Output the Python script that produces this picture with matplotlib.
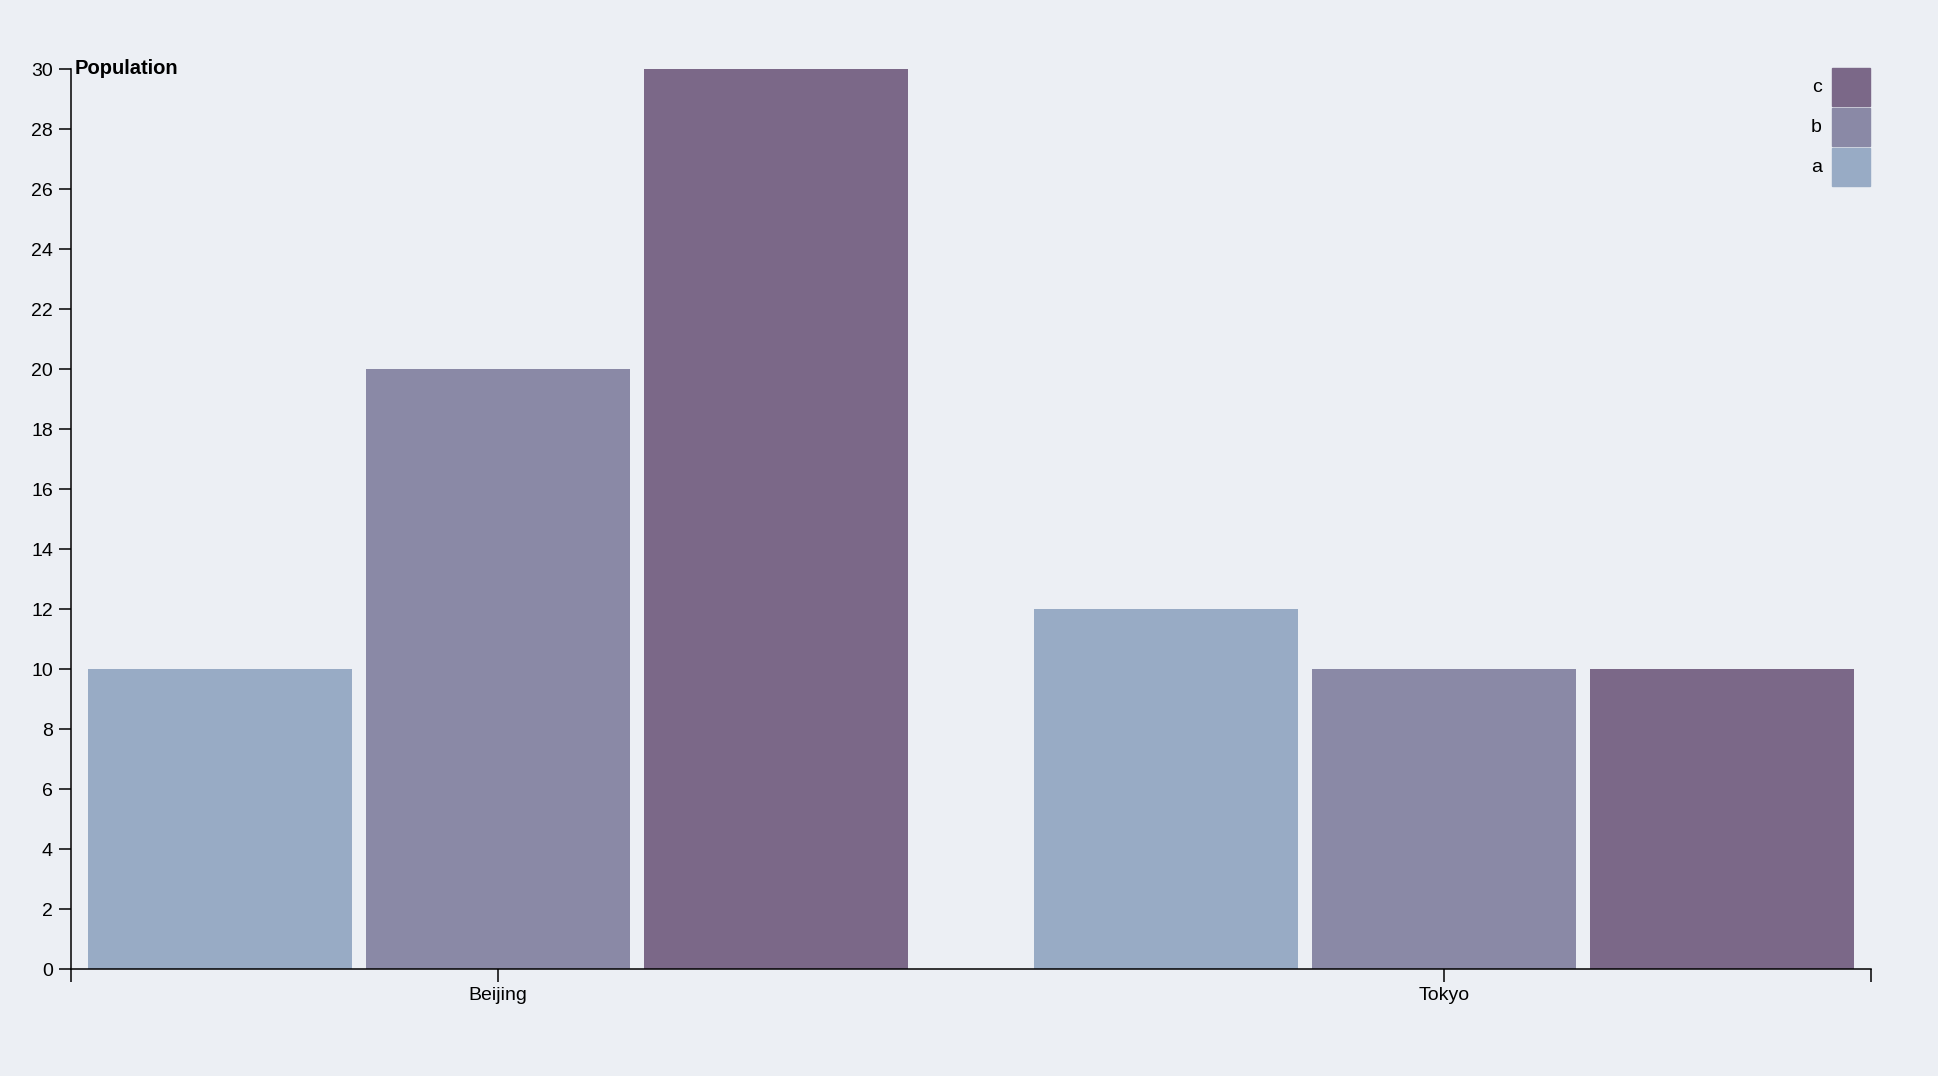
import matplotlib.pyplot as plt
import numpy as np

plt.rcParams['font.family'] = ['Liberation Sans', 'DejaVu Sans']

cities = ["Beijing", "Tokyo"]
series = ["a", "b", "c"]
values = {
    "a": [10, 12],
    "b": [20, 10],
    "c": [30, 10],
}
colors = {"a": "#98abc5", "b": "#8a89a6", "c": "#7b6888"}
bg = "#eceff4"

W, H = 1938, 1076
fig = plt.figure(figsize=(W / 100, H / 100), dpi=100, facecolor=bg)
ax = fig.add_axes([71 / W, (H - 969) / H, 1800 / W, 900 / H])
ax.set_facecolor(bg)

step = 278 / 946
width = 264 / 946
x = np.arange(len(cities))
for i, s in enumerate(series):
    ax.bar(x + (i - 1) * step, values[s], width=width, color=colors[s], zorder=2)

xl = (71 - 498) / 946
ax.set_xlim(xl, 1 - xl)
ax.set_ylim(0, 30)

for side in ["top", "right"]:
    ax.spines[side].set_visible(False)
for side in ["left", "bottom"]:
    ax.spines[side].set_linewidth(1.1)

ax.set_yticks(range(0, 31, 2))
ax.set_xticks([xl, 0, 1, 1 - xl])
ax.set_xticklabels(["", "Beijing", "Tokyo", ""])
ax.tick_params(axis="both", length=9, width=1.1, labelsize=14, colors="black", pad=4)

ax.text(4 / 1800, 1.0, "Population", transform=ax.transAxes, fontsize=14.5,
        fontweight="bold", va="center", ha="left")

# legend
for i, s in enumerate(reversed(series)):
    y0 = 68 + i * 40
    fig.patches.append(plt.Rectangle((1832 / W, 1 - (y0 + 38) / H), 38 / W, 38 / H,
                                     transform=fig.transFigure, color=colors[s]))
    fig.text(1822 / W, 1 - (y0 + 19) / H, s, ha="right", va="center", fontsize=14)

fig.savefig("out.png", dpi=100, facecolor=bg)
